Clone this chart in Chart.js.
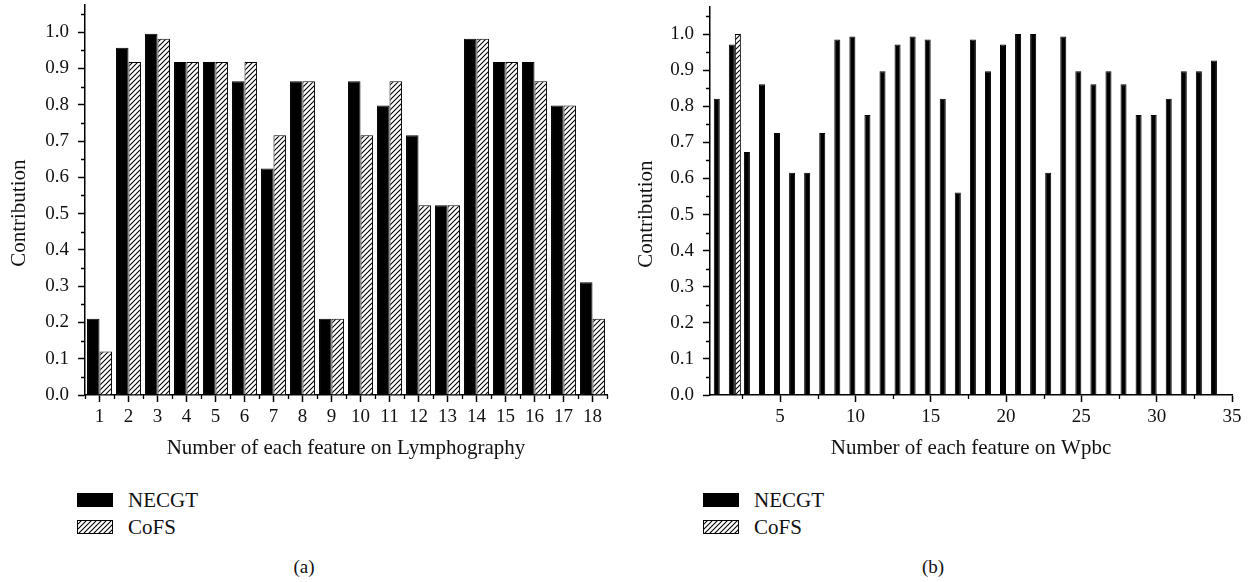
<!DOCTYPE html>
<html>
<head>
<meta charset="utf-8">
<script src="https://cdn.jsdelivr.net/npm/chart.js@4/dist/chart.umd.min.js"></script>
<style>
  html, body { margin: 0; padding: 0; background: #fff; width: 1255px; height: 582px; overflow: hidden; }
  body { font-family: "Liberation Serif", "DejaVu Serif", serif; color: #111; position: relative; }
  .wrap { position: absolute; top: 0; }
  #wa { left: 0; width: 627px; height: 470px; }
  #wb { left: 625px; width: 630px; height: 470px; }
  .sw { position: absolute; width: 36px; height: 14px; }
  .lt { position: absolute; font-size: 21px; line-height: 24px; height: 24px; white-space: nowrap; }
  .cap { position: absolute; font-size: 19px; line-height: 24px; height: 24px; width: 60px; text-align: center; }
</style>
</head>
<body>
<div class="wrap" id="wa"><canvas id="ca" width="627" height="470"></canvas></div>
<div class="wrap" id="wb"><canvas id="cb" width="630" height="470"></canvas></div>
<div id="legends"></div>
<script>
// ---------------- DATA ----------------
const seriesNames = ['NECGT', 'CoFS'];

// (a) Lymphography
const lymphFeatures = ['1','2','3','4','5','6','7','8','9','10','11','12','13','14','15','16','17','18'];
const lymphNECGT = [0.21, 0.957, 0.996, 0.918, 0.918, 0.865, 0.624, 0.865, 0.21, 0.865, 0.798, 0.716, 0.523, 0.982, 0.918, 0.918, 0.798, 0.311];
const lymphCoFS  = [0.12, 0.918, 0.982, 0.918, 0.918, 0.918, 0.716, 0.865, 0.21, 0.716, 0.865, 0.523, 0.523, 0.982, 0.918, 0.865, 0.798, 0.21];

// (b) Wpbc
const wpbcFeatures = [1,2,3,4,5,6,7,8,9,10,11,12,13,14,15,16,17,18,19,20,21,22,23,24,25,26,27,28,29,30,31,32,33,34];
const wpbcNECGT = [0.821, 0.971, 0.673, 0.861, 0.726, 0.616, 0.616, 0.726, 0.985, 0.993, 0.776, 0.897, 0.971, 0.993, 0.985, 0.821, 0.561,
                   0.985, 0.897, 0.971, 1.0, 1.0, 0.616, 0.993, 0.897, 0.861, 0.897, 0.861, 0.776, 0.776, 0.821, 0.897, 0.897, 0.927];
const wpbcCoFSFeatures = [2];
const wpbcCoFS = [1.0];

// Tick labels / positions
const contributionTicks = [0, 0.1, 0.2, 0.3, 0.4, 0.5, 0.6, 0.7, 0.8, 0.9, 1.0];
const contributionMinor = [0.05, 0.15, 0.25, 0.35, 0.45, 0.55, 0.65, 0.75, 0.85, 0.95, 1.05];
const wpbcTicks = [5, 10, 15, 20, 25, 30, 35];
const wpbcMinor = [2.5, 7.5, 12.5, 17.5, 22.5, 27.5, 32.5];

const titleX_a = 'Number of each feature on Lymphography';
const titleX_b = 'Number of each feature on Wpbc';
const titleY = 'Contribution';

// ---------------- STYLE ----------------
const FONT = '"Liberation Serif", "DejaVu Serif", serif';
const INK = '#111';

function makeHatch(ctx) {
  const c = document.createElement('canvas');
  c.width = 5; c.height = 5;
  const g = c.getContext('2d');
  g.fillStyle = '#fff'; g.fillRect(0, 0, 5, 5);
  g.strokeStyle = '#000'; g.lineWidth = 1.1;
  g.beginPath();
  g.moveTo(-1, 6); g.lineTo(6, -1);
  g.moveTo(-1, 1); g.lineTo(1, -1);
  g.moveTo(4, 6); g.lineTo(6, 4);
  g.stroke();
  return ctx.createPattern(c, 'repeat');
}

const minorTicks = {
  id: 'minorTicks',
  afterDraw(chart, args, opts) {
    const ctx = chart.ctx, xs = chart.scales.x, ys = chart.scales.y;
    ctx.save();
    ctx.strokeStyle = '#000';
    ctx.lineWidth = 1.3;
    ctx.beginPath();
    (opts.y || []).forEach(v => {
      if (v > ys.max) return;
      const p = Math.round(ys.getPixelForValue(v)) + 0.5;
      ctx.moveTo(ys.right - opts.len, p); ctx.lineTo(ys.right, p);
    });
    let xv = opts.x || [];
    if (opts.categoryBoundaries) {
      xv = [];
      for (let i = 0; i <= chart.data.labels.length; i++) xv.push(i - 0.5);
    }
    xv.forEach(v => {
      const p = Math.round(xs.getPixelForValue(v)) + 0.5;
      ctx.moveTo(p, xs.top); ctx.lineTo(p, xs.top + opts.len);
    });
    ctx.stroke();
    ctx.restore();
  }
};

function yScale(titlePad, top) {
  return {
    type: 'linear', min: 0, max: 1.075,
    afterBuildTicks: s => { s.ticks = contributionTicks.map(v => ({ value: v })); },
    afterFit: s => { s.width = 85; s.paddingTop = 0; s.paddingBottom = 0; },
    ticks: {
      callback: v => Number(v).toFixed(1),
      font: { family: FONT, size: 19 }, color: INK, padding: 9
    },
    grid: { display: true, drawOnChartArea: false, drawTicks: true, tickLength: 7, tickWidth: 1.5, tickColor: '#000' },
    border: { display: true, color: '#000', width: 1.5 },
    title: { display: true, text: titleY + '     ', font: { family: FONT, size: 21 }, color: INK, padding: { top: titlePad, bottom: 0 } }
  };
}

function xCommon(titleText) {
  return {
    afterFit: s => { s.height = 75; s.paddingLeft = 0; s.paddingRight = 0; },
    ticks: { font: { family: FONT, size: 19 }, color: INK, padding: 4, maxRotation: 0, autoSkip: false },
    grid: { display: true, offset: false, drawOnChartArea: false, drawTicks: true, tickLength: 7, tickWidth: 1.5, tickColor: '#000' },
    border: { display: true, color: '#000', width: 1.5 },
    title: { display: true, text: titleText, font: { family: FONT, size: 21 }, color: INK, padding: { top: 0, bottom: 9 } }
  };
}

// ---------------- CHART (a) ----------------
const ctxA = document.getElementById('ca').getContext('2d');
const hatchA = makeHatch(ctxA);
new Chart(ctxA, {
  type: 'bar',
  data: {
    labels: lymphFeatures,
    datasets: [
      { label: seriesNames[0], data: lymphNECGT, backgroundColor: '#000', borderColor: '#000', borderWidth: 1 },
      { label: seriesNames[1], data: lymphCoFS, backgroundColor: hatchA, borderColor: '#000', borderWidth: 1 }
    ]
  },
  options: {
    responsive: false, animation: false, devicePixelRatio: 1,
    categoryPercentage: 0.86, barPercentage: 1.0,
    layout: { padding: { left: 0, right: 20, top: 5, bottom: 0 } },
    plugins: {
      legend: { display: false }, tooltip: { enabled: false },
      minorTicks: { y: contributionMinor, categoryBoundaries: true, len: 4 }
    },
    scales: {
      x: Object.assign({ type: 'category', offset: true }, xCommon(titleX_a)),
      y: yScale(7)
    }
  },
  plugins: [minorTicks]
});

// ---------------- CHART (b) ----------------
const ctxB = document.getElementById('cb').getContext('2d');
const hatchB = makeHatch(ctxB);
new Chart(ctxB, {
  type: 'bar',
  data: {
    datasets: [
      { label: seriesNames[0], data: wpbcFeatures.map((f, i) => ({ x: f, y: wpbcNECGT[i] })), backgroundColor: '#000', borderColor: '#000', borderWidth: 1 },
      { label: seriesNames[1], data: wpbcCoFSFeatures.map((f, i) => ({ x: f, y: wpbcCoFS[i] })), backgroundColor: hatchB, borderColor: '#000', borderWidth: 1 }
    ]
  },
  options: {
    responsive: false, animation: false, devicePixelRatio: 1,
    categoryPercentage: 0.8, barPercentage: 1.0,
    layout: { padding: { left: 0, right: 23, top: 7, bottom: 0 } },
    plugins: {
      legend: { display: false }, tooltip: { enabled: false },
      minorTicks: { y: contributionMinor, x: wpbcMinor, len: 4 }
    },
    scales: {
      x: Object.assign({
        type: 'linear', min: 0.35, max: 35, offset: false,
        afterBuildTicks: s => { s.ticks = wpbcTicks.map(v => ({ value: v })); }
      }, xCommon(titleX_b)),
      y: yScale(9)
    }
  },
  plugins: [minorTicks]
});

// ---------------- LEGENDS & CAPTIONS ----------------
function swatch(x, y, hatched) {
  const c = document.createElement('canvas');
  c.width = 36; c.height = 14; c.className = 'sw';
  c.style.left = x + 'px'; c.style.top = y + 'px';
  const g = c.getContext('2d');
  if (hatched) {
    g.fillStyle = makeHatch(g); g.fillRect(0, 0, 36, 14);
    g.strokeStyle = '#000'; g.lineWidth = 1; g.strokeRect(0.5, 0.5, 35, 13);
  } else {
    g.fillStyle = '#000'; g.fillRect(0, 0, 36, 14);
  }
  document.body.appendChild(c);
}
function text(cls, x, cy, str) {
  const d = document.createElement('div');
  d.className = cls; d.textContent = str;
  d.style.left = x + 'px'; d.style.top = (cy - 12) + 'px';
  document.body.appendChild(d);
}
[[77, 128], [703, 754]].forEach(([bx, tx]) => {
  swatch(bx, 493, false); text('lt', tx, 500, seriesNames[0]);
  swatch(bx, 520, true);  text('lt', tx, 527, seriesNames[1]);
});
text('cap', 304 - 30, 567, '(a)');
text('cap', 933 - 30, 567, '(b)');
</script>
</body>
</html>
